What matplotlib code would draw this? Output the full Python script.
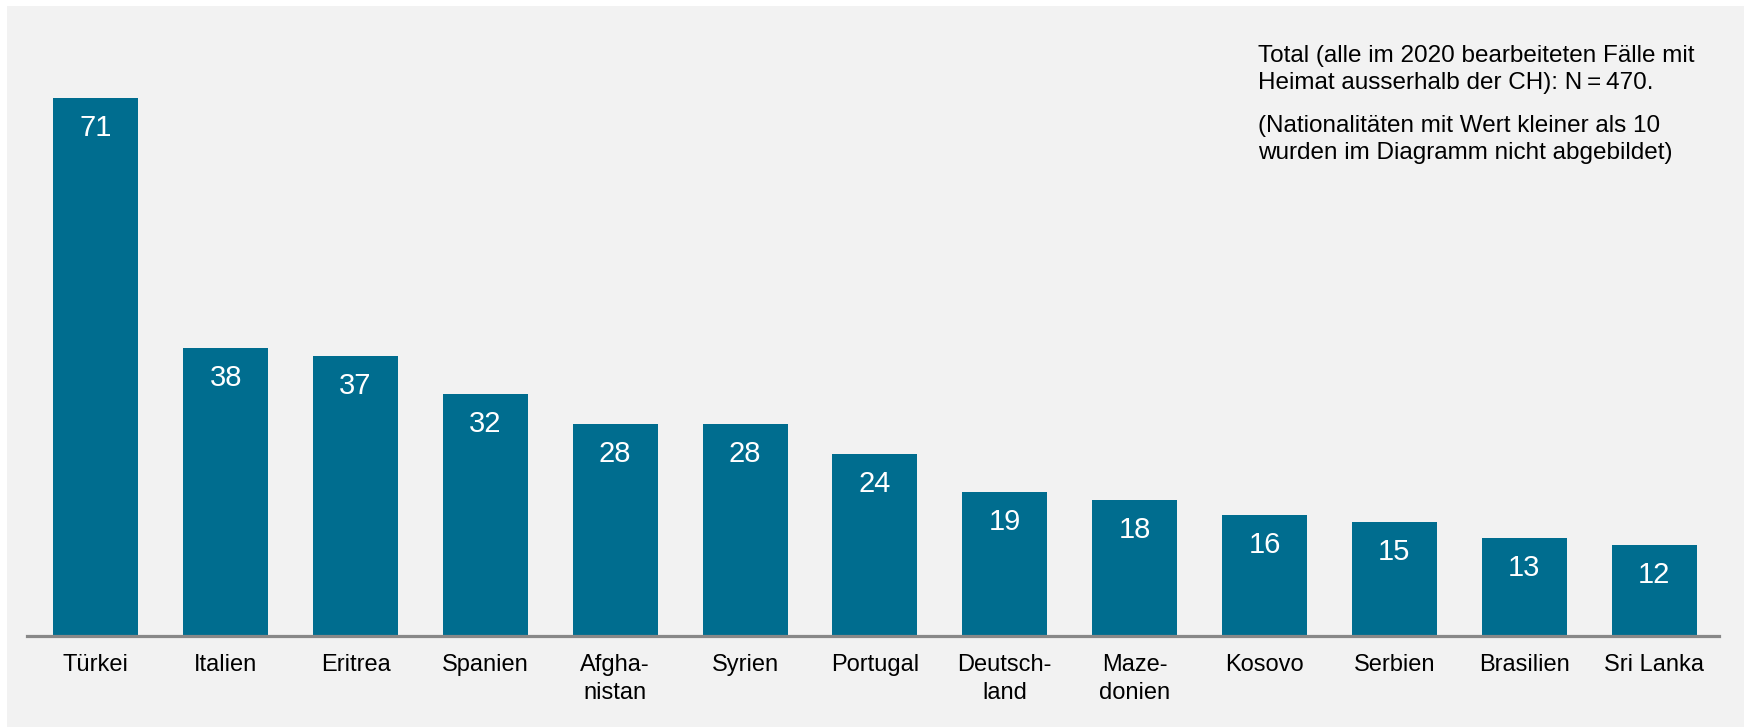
import matplotlib.pyplot as plt
from matplotlib.patches import Rectangle

# Daten
laender = ["Türkei", "Italien", "Eritrea", "Spanien", "Afgha-\nnistan", "Syrien",
           "Portugal", "Deutsch-\nland", "Maze-\ndonien", "Kosovo", "Serbien",
           "Brasilien", "Sri Lanka"]
faelle = [71, 38, 37, 32, 28, 28, 24, 19, 18, 16, 15, 13, 12]

hinweis = ("Total (alle im 2020 bearbeiteten Fälle mit\n"
           "Heimat ausserhalb der CH): N\u2009=\u2009470.")
hinweis2 = ("(Nationalitäten mit Wert kleiner als 10\n"
            "wurden im Diagramm nicht abgebildet)")

plt.rcParams['font.family'] = ['Liberation Sans', 'DejaVu Sans']

W, H = 1744, 727
fig = plt.figure(figsize=(W / 100, H / 100), dpi=100)
fig.patch.set_facecolor('white')

# grauer Hintergrund
fig.patches.append(Rectangle((7 / W, 0), 1 - 7 / W, 1 - 6 / H,
                             transform=fig.transFigure, facecolor='#f2f2f2',
                             edgecolor='none', zorder=-5))

ax = fig.add_axes([27 / W, 91 / H, (1719 - 27) / W, 606 / H])
ax.set_facecolor('none')

x = range(len(laender))
bars = ax.bar(x, faelle, width=0.655, color='#006d8f', zorder=2)

for b, v in zip(bars, faelle):
    ax.annotate(str(v), (b.get_x() + b.get_width() / 2, v),
                xytext=(0, -30), textcoords='offset pixels',
                ha='center', va='center', color='white', fontsize=21)

ax.set_xlim(-0.53, 12.5)
ax.set_ylim(0, 80)
ax.set_xticks(list(x))
ax.set_xticklabels(laender, fontsize=17, linespacing=1.35)
ax.tick_params(axis='x', length=0, pad=13)
ax.set_yticks([])

for s in ['top', 'right', 'left']:
    ax.spines[s].set_visible(False)
ax.spines['bottom'].set_color('#888888')
ax.spines['bottom'].set_linewidth(2.3)
ax.spines['bottom'].set_zorder(3)

# Baseline der letzten Zeile
fig.text(1258 / W, 1 - 89 / H, hinweis, fontsize=17.5, va='baseline',
         ha='left', linespacing=1.32)
fig.text(1258 / W, 1 - 159 / H, hinweis2, fontsize=17.5, va='baseline',
         ha='left', linespacing=1.32)

fig.savefig('out.png', dpi=100)
